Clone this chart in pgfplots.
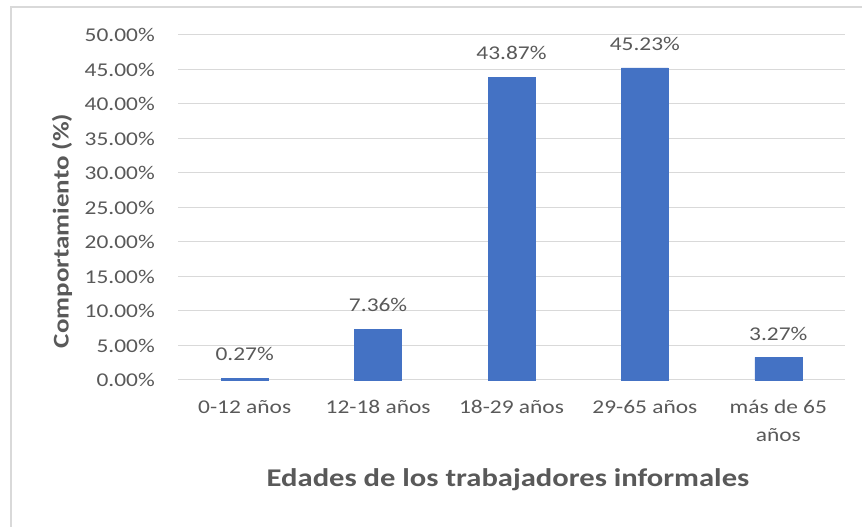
\documentclass[border=0pt]{standalone}
\usepackage{fontspec}
\setmainfont{Carlito}[FakeStretch=1.2]
\usepackage{pgfplots}
\pgfplotsset{compat=1.18}
\definecolor{barblue}{HTML}{4472C4}
\definecolor{txtgray}{HTML}{595959}
\definecolor{gridgray}{HTML}{D9D9D9}
\begin{document}
\begin{tikzpicture}[x=1pt,y=1pt]
\useasboundingbox (0,0) rectangle (862,527);
\draw[gridgray, line width=1.2pt] (11,-10) rectangle (880,520);
\begin{axis}[
  at={(178pt,147pt)}, anchor=south west,
  scale only axis, width=667pt, height=345pt,
  xmin=-0.5, xmax=4.5, ymin=0, ymax=50,
  ytick={0,5,...,50}, xtick={0,1,2,3,4},
  xticklabels={0-12 años, 12-18 años, 18-29 años, 29-65 años, {más de 65\\años}},
  axis line style={draw=none},
  major tick length=0pt,
  ymajorgrids, grid style={gridgray, line width=1pt},
  /pgf/number format/assume math mode=true,
  yticklabel={\pgfmathprintnumber[fixed,fixed zerofill,precision=2]{\tick}\%},
  yticklabel style={inner sep=0pt, xshift=-23pt, text=txtgray, font=\fontsize{19.5}{24}\selectfont},
  xticklabel style={inner sep=0pt, yshift=-20pt, text=txtgray, align=center, font=\fontsize{19.5}{28}\selectfont},
  ybar, bar width=47pt,
  nodes near coords={\pgfmathprintnumber[fixed,fixed zerofill,precision=2]{\pgfplotspointmeta}\%},
  every node near coord/.append style={inner sep=0pt, anchor=south, yshift=17pt, text=txtgray, font=\fontsize{19.5}{24}\selectfont},
  clip=false,
]
\addplot[fill=barblue, draw=barblue] coordinates {(0,0.27) (1,7.36) (2,43.87) (3,45.23) (4,3.27)};
\end{axis}
\node[rotate=90, text=txtgray, font=\bfseries\fontsize{22.5}{26}\selectfont] at (62,296) {Comportamiento (\%)};
\node[text=txtgray, font=\bfseries\fontsize{25.5}{30}\selectfont] at (508,47) {Edades de los trabajadores informales};
\end{tikzpicture}
\end{document}
